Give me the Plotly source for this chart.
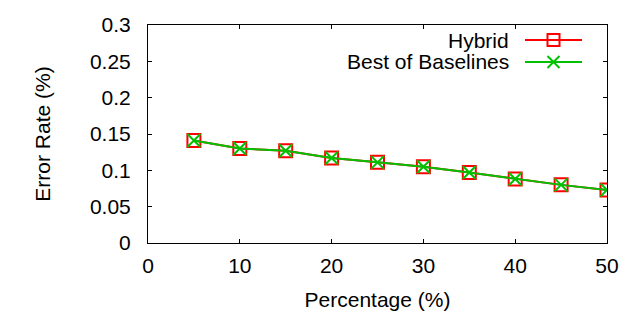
import plotly.graph_objects as go

# percentages on x axis
pct = [5, 10, 15, 20, 25, 30, 35, 40, 45, 50]
# error rates
hybrid = [0.141, 0.130, 0.127, 0.117, 0.111, 0.105, 0.097, 0.088, 0.080, 0.073]
best_baseline = [0.141, 0.130, 0.127, 0.117, 0.111, 0.105, 0.097, 0.088, 0.080, 0.073]

FONT = "Liberation Sans"
FS = 21
W, H = 640, 320
L, R, T, B = 148, 33, 25, 77


def px(x):
    return (x - L) / (W - L - R)


def py(y):
    return (H - B - y) / (H - T - B)


fig = go.Figure()
fig.add_trace(go.Scatter(x=pct, y=hybrid, name="Hybrid", mode="lines+markers",
                         line=dict(color="#ff0000", width=2),
                         marker=dict(symbol="square-open", size=13, color="#ff0000",
                                     line=dict(width=2, color="#ff0000"))))
fig.add_trace(go.Scatter(x=pct, y=best_baseline, name="Best of Baselines", mode="lines+markers",
                         line=dict(color="#00c000", width=2),
                         marker=dict(symbol="x-thin-open", size=13, color="#00c000",
                                     line=dict(width=2, color="#00c000"))))

axis = dict(showline=True, linecolor="black", linewidth=1, mirror="ticks",
            ticks="inside", ticklen=4, tickcolor="black", showgrid=False,
            zeroline=False, automargin=False,
            tickfont=dict(family=FONT, size=FS, color="black"))

fig.update_xaxes(range=[0, 50], dtick=10, ticklabelstandoff=4,
                 title=dict(text="Percentage (%)", font=dict(family=FONT, size=FS, color="black"),
                            standoff=16), **axis)
fig.update_yaxes(range=[0, 0.3], dtick=0.05, ticklabelstandoff=12,
                 title=dict(text="Error Rate (%)", font=dict(family=FONT, size=FS, color="black"),
                            standoff=33), **axis)

# gnuplot-style key: text on the left, sample on the right
key = [("Hybrid", 40, "#ff0000", "square"), ("Best of Baselines", 62, "#00c000", "x")]
shapes = []
annotations = []
for label, yy, col, sym in key:
    annotations.append(dict(text=label, x=px(511), y=py(yy), xref="paper", yref="paper",
                            xanchor="right", yanchor="middle", showarrow=False,
                            font=dict(family=FONT, size=FS, color="black")))
    shapes.append(dict(type="line", xref="paper", yref="paper", x0=px(525), x1=px(582),
                       y0=py(yy), y1=py(yy), line=dict(color=col, width=2)))
    if sym == "square":
        shapes.append(dict(type="rect", xref="paper", yref="paper", x0=px(547.5), x1=px(559.5),
                           y0=py(yy - 6), y1=py(yy + 6), line=dict(color=col, width=2)))
    else:
        shapes.append(dict(type="line", xref="paper", yref="paper", x0=px(547.5), x1=px(559.5),
                           y0=py(yy - 6), y1=py(yy + 6), line=dict(color=col, width=2)))
        shapes.append(dict(type="line", xref="paper", yref="paper", x0=px(547.5), x1=px(559.5),
                           y0=py(yy + 6), y1=py(yy - 6), line=dict(color=col, width=2)))

fig.update_layout(width=W, height=H, margin=dict(l=L, r=R, t=T, b=B),
                  plot_bgcolor="white", paper_bgcolor="white", showlegend=False,
                  shapes=shapes, annotations=annotations)

fig.write_html("out.html", config={"displayModeBar": False},
               post_script="document.body.style.margin='0px';")
